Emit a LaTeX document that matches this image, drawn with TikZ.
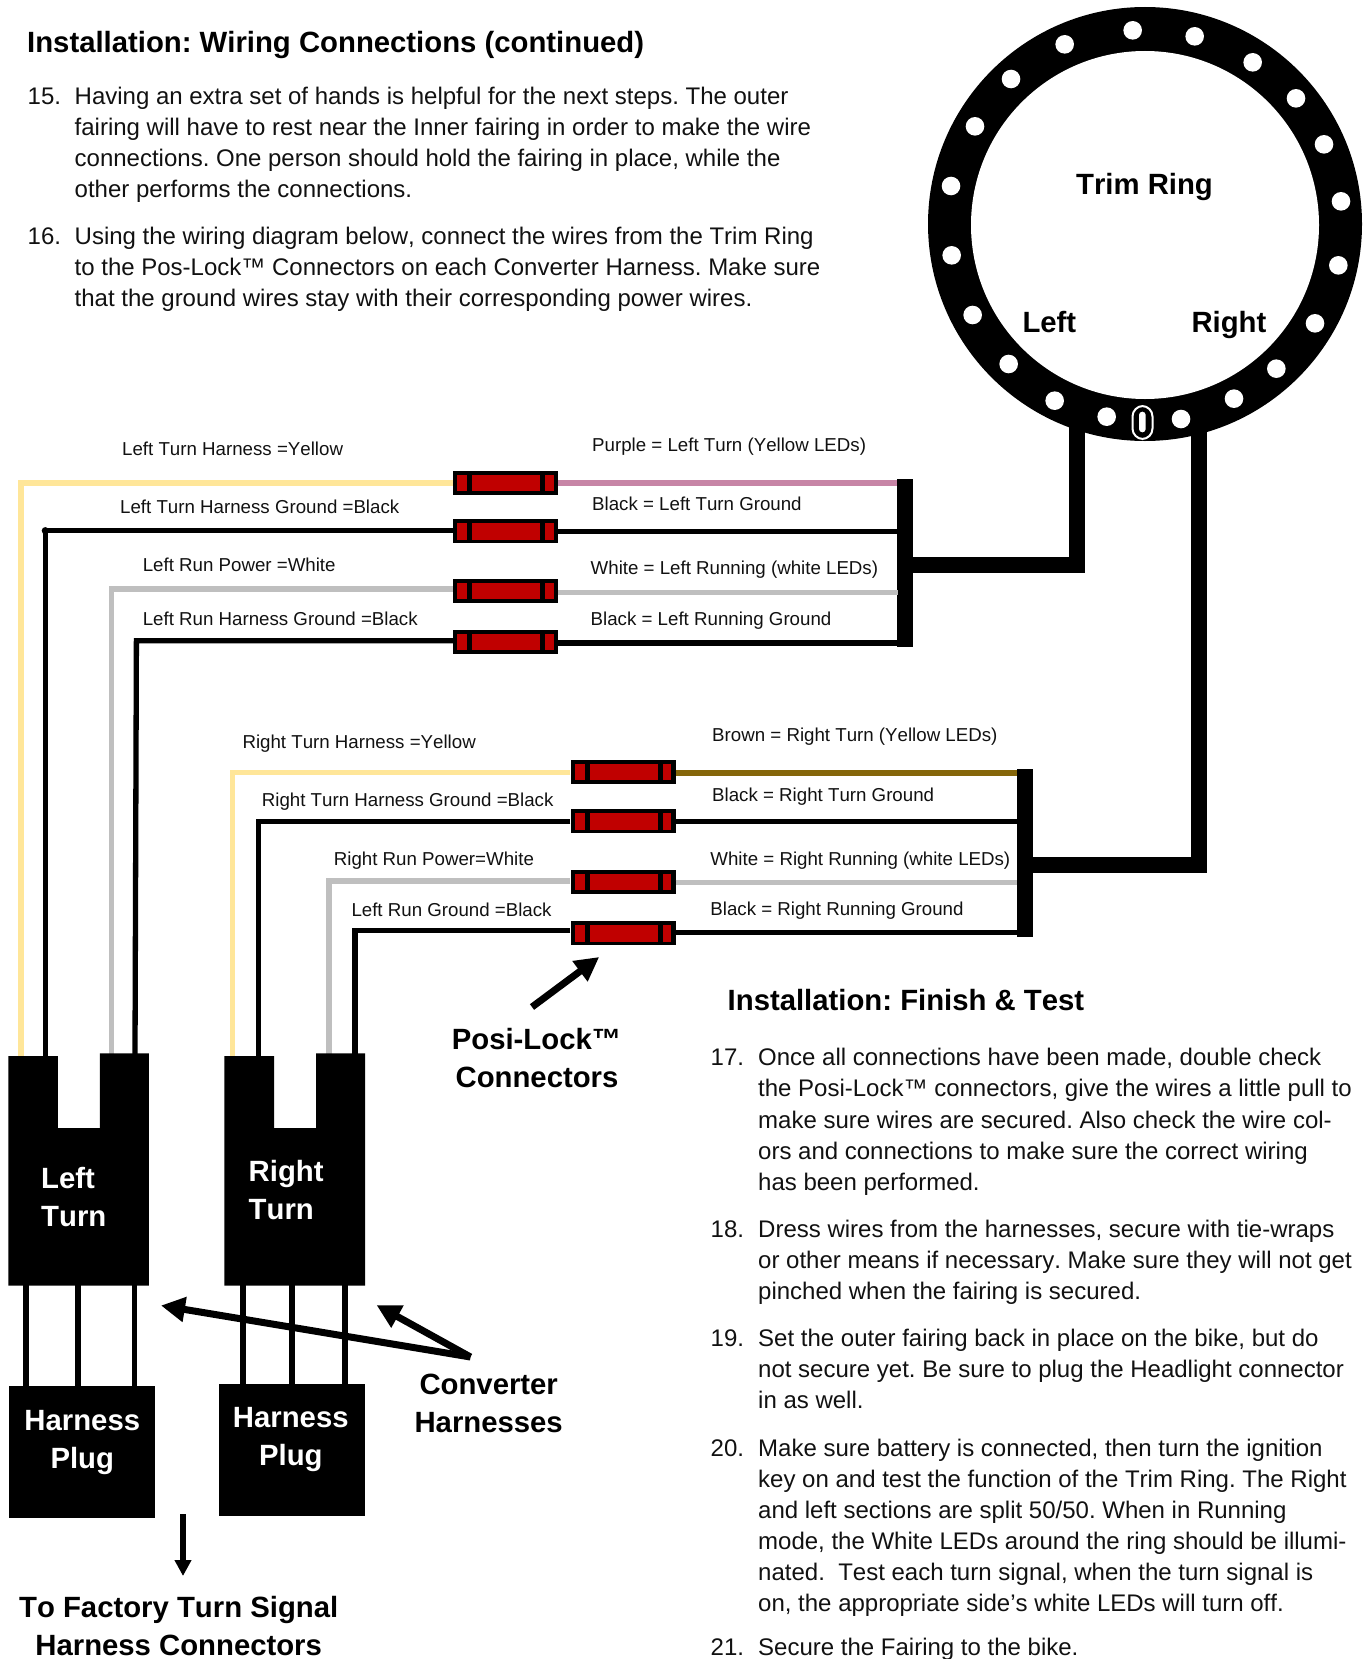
\documentclass[tikz,border=0pt]{standalone}
\usepackage{fontspec}
\setmainfont[Kerning=Off]{Liberation Sans}
\usetikzlibrary{arrows.meta}
\definecolor{wyellow}{HTML}{FFE699}
\definecolor{wgray}{HTML}{BFBFBF}
\definecolor{wpurple}{HTML}{C785A6}
\definecolor{wbrown}{HTML}{85660A}
\definecolor{cred}{HTML}{C00000}
\definecolor{ink}{HTML}{111111}
\frenchspacing
\tikzset{
  wire/.style={line width=5.3pt,line cap=butt,line join=miter},
  bodytxt/.style={anchor=base west,inner sep=0pt,text=ink,font=\fontsize{24}{31}\selectfont},
  small/.style={anchor=base west,inner sep=0pt,text=ink,font=\fontsize{18.7}{22}\selectfont},
  boldtxt/.style={anchor=base,inner sep=0pt,text=black,font=\fontsize{29.3}{34}\selectfont\bfseries},
  boldleft/.style={boldtxt,anchor=base west},
  whitetxt/.style={boldtxt,text=white},
  whiteleft/.style={boldleft,text=white},
  conn/.style={fill=black,draw=none,inner sep=0pt,minimum width=105pt,minimum height=24pt},
  solidbox/.style={fill=black,draw=none,inner sep=0pt},
  hole/.style={fill=white,draw=none},
  thick arrow/.style={line width=7pt,-{Triangle[length=24pt,width=24pt]}},
  plugwire/.style={line width=5.5pt,line cap=butt},
  trunk/.style={line width=16pt,line cap=butt,line join=miter},
}
\newcommand{\posi}[3]{%
  \node[conn] (#1) at (#2,#3) {};
  \fill[cred] (#2-48.2,#3-8.3) rectangle (#2-38.2,#3+8.3);
  \fill[cred] (#2-33.5,#3-8.3) rectangle (#2+34.5,#3+8.3);
  \fill[cred] (#2+39.5,#3-8.3) rectangle (#2+48.2,#3+8.3);
}
\begin{document}
\begin{tikzpicture}[x=1pt,y=-1pt]
\useasboundingbox (0,0) rectangle (1367,1659);

% ---------- Trim ring
\fill[black] (1145,224) circle (217);
\fill[white] (1145,225) circle (174);
\foreach \hx/\hy in {698/91,884/109,1058/187,1188/295,1272/433,1323/604,1315/796,1245/970,1129/1106,1002/1196,843/1257,620/1250,464/1202,326/1092,218/945,155/766,153/558,225/379,333/237,494/133}
  \fill[hole] ({900+\hx/3},{\hy/3}) circle (9.3);
\draw[white,line width=2pt,rounded corners=10.5pt] (1132.5,406) rectangle (1152.5,439);
\fill[white,rounded corners=3.3pt] (1139,411.7) rectangle (1145.7,432.3);
\node[boldtxt] (trim) at (1144.5,194.3) {Trim Ring};
\node[boldleft] (ringL) at (1022.3,332.2) {Left};
\node[boldleft] (ringR) at (1191.3,332.2) {Right};

% ---------- Header text
\node[boldleft] (title) at (27,52.9) {Installation: Wiring Connections (continued)};
\node[bodytxt] (n15) at (27.5,104.7) {15.};
\node[bodytxt] (t15a) at (74.5,104.7) {Having an extra set of hands is helpful for the next steps. The outer};
\node[bodytxt] (t15b) at (74.5,135.3) {fairing will have to rest near the Inner fairing in order to make the wire};
\node[bodytxt] (t15c) at (74.5,166) {connections. One person should hold the fairing in place, while the};
\node[bodytxt] (t15d) at (74.5,197) {other performs the connections.};
\node[bodytxt] (n16) at (27.5,244.2) {16.};
\node[bodytxt] (t16a) at (74.5,244.2) {Using the wiring diagram below, connect the wires from the Trim Ring};
\node[bodytxt] (t16b) at (74.5,275.4) {to the Pos-Lock™ Connectors on each Converter Harness. Make sure};
\node[bodytxt] (t16c) at (74.5,306.6) {that the ground wires stay with their corresponding power wires.};

% ---------- Left group
\node[solidbox,minimum width=16pt,minimum height=168pt] (barL) at (905,563) {};
\posi{cL1}{505.5}{483}
\posi{cL2}{505.5}{531.3}
\posi{cL3}{505.5}{591}
\posi{cL4}{505.5}{642}
\coordinate (bL1) at (21,1056);
\coordinate (bL2) at (45.3,1056);
\coordinate (bL3) at (111.3,1054);
\coordinate (bL4) at (135,1054);
\draw[wire,wyellow] (cL1.west) -| (bL1);
\draw[wire,black] ([yshift=0.6pt]cL2.west) -| (bL2);
\fill[black] (45.3,530.7) circle (3.6);
\draw[wire,wgray] ([yshift=2pt]cL3.west) -| (bL3);
\draw[wire,black] ([yshift=1.3pt]cL4.west) -- (136.4,640.7) -- (bL4);
\draw[wire,wpurple] (cL1.east) -- (barL.west |- cL1.east);
\draw[wire,black] (cL2.east) -- (barL.west |- cL2.east);
\draw[wire,wgray] ([yshift=-1.7pt]cL3.east) -- ++(339.3,0);
\draw[wire,black] ([yshift=-1pt]cL4.east) -- ++(339.3,0);
\draw[trunk,black] (barL.east |- 0,565) -| (1077,425);

% ---------- Right group
\node[solidbox,minimum width=16pt,minimum height=168pt] (barR) at (1025,853) {};
\posi{cR1}{623}{772}
\posi{cR2}{623}{821.2}
\posi{cR3}{623}{882}
\posi{cR4}{623}{933.3}
\coordinate (bR1) at (232.7,1056);
\coordinate (bR2) at (258.7,1056);
\coordinate (bR3) at (329,1054);
\coordinate (bR4) at (355,1054);
\draw[wire,wyellow] ([yshift=-0.7pt]cR1.west) -| (bR1);
\draw[wire,black] (cR2.west) -| (bR2);
\draw[wire,wgray] ([yshift=1pt]cR3.west) -| (bR3);
\draw[wire,black] ([yshift=2.6pt]cR4.west) -| (bR4);
\draw[wire,wbrown] ([yshift=-1pt]cR1.east) -- ++(341.6,0);
\draw[wire,black] (cR2.east) -- ++(341.6,0);
\draw[wire,wgray] ([yshift=-0.7pt]cR3.east) -- ++(341.6,0);
\draw[wire,black] ([yshift=0.6pt]cR4.east) -- ++(341.6,0);
\draw[trunk,black] (barR.east |- 0,865) -| (1199,425);

% ---------- Wire labels, left
\node[small] (l1) at (122,455) {Left Turn Harness =Yellow};
\node[small] (l2) at (120,513.3) {Left Turn Harness Ground =Black};
\node[small] (l3) at (142.6,571) {Left Run Power =White};
\node[small] (l4) at (142.6,625) {Left Run Harness Ground =Black};
\node[small] (l5) at (592,451.7) {Purple = Left Turn (Yellow LEDs)};
\node[small] (l6) at (592,510) {Black = Left Turn Ground};
\node[small] (l7) at (590.5,574) {White = Left Running (white LEDs)};
\node[small] (l8) at (590.5,625) {Black = Left Running Ground};
% ---------- Wire labels, right
\node[small] (r1) at (242.3,748.3) {Right Turn Harness =Yellow};
\node[small] (r2) at (261.7,806.7) {Right Turn Harness Ground =Black};
\node[small] (r3) at (333.7,865) {Right Run Power=White};
\node[small] (r4) at (351.3,916.7) {Left Run Ground =Black};
\node[small] (r5) at (712,741.3) {Brown = Right Turn (Yellow LEDs)};
\node[small] (r6) at (712,801.3) {Black = Right Turn Ground};
\node[small] (r7) at (710.2,865) {White = Right Running (white LEDs)};
\node[small] (r8) at (710.2,915.3) {Black = Right Running Ground};

% ---------- Converter blocks
\fill[black] (8.4,1056) -- (57.8,1056) -- (57.8,1128) -- (99.9,1128) -- (99.9,1053.4) -- (148.9,1053.4) -- (148.9,1285.5) -- (8.4,1285.5) -- cycle;
\fill[black] (224.3,1056) -- (274,1056) -- (274,1128) -- (316,1128) -- (316,1053.4) -- (365,1053.4) -- (365,1285.5) -- (224.3,1285.5) -- cycle;
\node[whiteleft] (blL1) at (41,1188.3) {Left};
\node[whiteleft] (blL2) at (41,1226.8) {Turn};
\node[whiteleft] (blR1) at (248.5,1181.4) {Right};
\node[whiteleft] (blR2) at (248.5,1219.6) {Turn};

% ---------- Plugs
\node[solidbox,minimum width=146.4pt,minimum height=132pt] (plugL) at (82.2,1452) {};
\node[solidbox,minimum width=146pt,minimum height=132pt] (plugR) at (292,1450) {};
\draw[plugwire] (26,1285) -- (26,1388);
\draw[plugwire] (78,1285) -- (78,1388);
\draw[plugwire] (134.7,1285) -- (134.7,1388);
\draw[plugwire] (243,1285) -- (243,1386);
\draw[plugwire] (292,1285) -- (292,1386);
\draw[plugwire] (344.8,1285) -- (344.8,1386);
\node[whitetxt] (pl1) at (82.3,1430.4) {Harness};
\node[whitetxt] (pl2) at (82.3,1468.6) {Plug};
\node[whitetxt] (pr1) at (290.8,1427.6) {Harness};
\node[whitetxt] (pr2) at (290.8,1465.7) {Plug};

% ---------- Callouts
\coordinate (convFrom) at (470.5,1357);
\coordinate (convA) at (161,1305.5);
\coordinate (convB) at (376.5,1305);
\draw[thick arrow] (convFrom) -- (convA);
\draw[thick arrow] (convFrom) -- (convB);
\node[boldtxt] (conv1) at (488.7,1394.3) {Converter};
\node[boldtxt] (conv2) at (488.7,1432.4) {Harnesses};
\coordinate (posiFrom) at (532,1007);
\coordinate (posiTo) at (599.2,957);
\draw[thick arrow] (posiFrom) -- (posiTo);
\node[boldtxt] (posi1) at (536.5,1049) {Posi-Lock™};
\node[boldtxt] (posi2) at (537,1087) {Connectors};
\coordinate (downFrom) at (183,1514);
\coordinate (downTo) at (183,1576);
\draw[line width=6pt,-{Triangle[length=16pt,width=16pt]}] (downFrom) -- (downTo);
\node[boldtxt] (fac1) at (178.7,1617.6) {To Factory Turn Signal};
\node[boldtxt] (fac2) at (178.7,1655.7) {Harness Connectors};

% ---------- Finish & Test text
\node[boldleft] (head2) at (727.5,1010) {Installation: Finish \& Test};
\node[bodytxt] (n17) at (710.5,1065.7) {17.};
\node[bodytxt] (t17a) at (758,1065.7) {Once all connections have been made, double check};
\node[bodytxt] (t17b) at (758,1096.9) {the Posi-Lock™ connectors, give the wires a little pull to};
\node[bodytxt] (t17c) at (758,1128.1) {make sure wires are secured. Also check the wire col-};
\node[bodytxt] (t17d) at (758,1159.5) {ors and connections to make sure the correct wiring};
\node[bodytxt] (t17e) at (758,1190.3) {has been performed.};
\node[bodytxt] (n18) at (710.5,1237) {18.};
\node[bodytxt] (t18a) at (758,1237) {Dress wires from the harnesses, secure with tie-wraps};
\node[bodytxt] (t18b) at (758,1268.2) {or other means if necessary. Make sure they will not get};
\node[bodytxt] (t18c) at (758,1299.4) {pinched when the fairing is secured.};
\node[bodytxt] (n19) at (710.5,1346.9) {19.};
\node[bodytxt] (t19a) at (758,1346.9) {Set the outer fairing back in place on the bike, but do};
\node[bodytxt] (t19b) at (758,1377.6) {not secure yet. Be sure to plug the Headlight connector};
\node[bodytxt] (t19c) at (758,1408.8) {in as well.};
\node[bodytxt] (n20) at (710.5,1456.9) {20.};
\node[bodytxt] (t20a) at (758,1456.9) {Make sure battery is connected, then turn the ignition};
\node[bodytxt] (t20b) at (758,1487.6) {key on and test the function of the Trim Ring. The Right};
\node[bodytxt] (t20c) at (758,1518.2) {and left sections are split 50/50. When in Running};
\node[bodytxt] (t20d) at (758,1549.4) {mode, the White LEDs around the ring should be illumi-};
\node[bodytxt] (t20e) at (758,1580.7) {nated.\ \ Test each turn signal, when the turn signal is};
\node[bodytxt] (t20f) at (758,1611.8) {on, the appropriate side’s white LEDs will turn off.};
\node[bodytxt] (n21) at (710.5,1655.7) {21.};
\node[bodytxt] (t21a) at (758,1655.7) {Secure the Fairing to the bike.};
\end{tikzpicture}
\end{document}
